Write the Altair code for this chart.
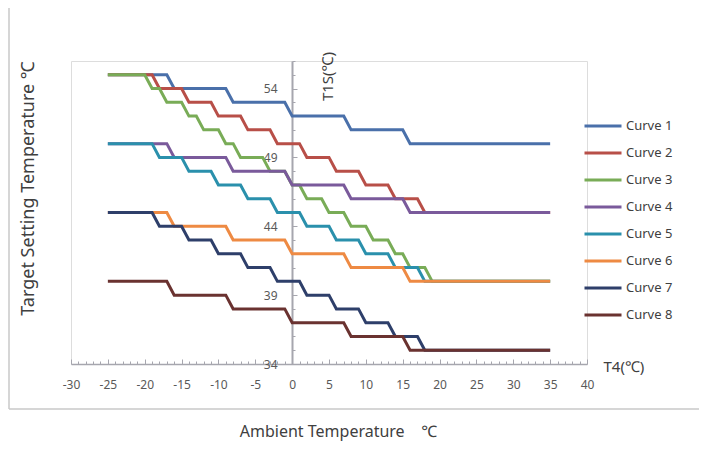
import altair as alt
import pandas as pd

series = ["Curve 1", "Curve 2", "Curve 3", "Curve 4", "Curve 5", "Curve 6", "Curve 7", "Curve 8"]
colors = ["#4A70AA", "#B84F48", "#79AC57", "#7A5A9B", "#2A90AC", "#EE8A43", "#2E3F6A", "#6A3230"]

c1_x = [-25, -17, -16, -9, -8, -1, 0, 7, 8, 15, 16, 35]
c1_y = [55, 55, 54, 54, 53, 53, 52, 52, 51, 51, 50, 50]

c2_x = [-25, -19, -18, -15, -14, -11, -10, -7, -6, -3, -2, 1, 2, 5, 6, 9, 10, 13, 14, 17, 18, 35]
c2_y = [55, 55, 54, 54, 53, 53, 52, 52, 51, 51, 50, 50, 49, 49, 48, 48, 47, 47, 46, 46, 45, 45]

c3_x = [-25, -20, -19, -18, -17, -15, -14, -13, -12, -10, -9, -8, -7, -4, -3, -1, 0, 1, 2, 4, 5, 7, 8, 10, 11, 13, 14, 15, 16, 18, 19, 35]
c3_y = [55, 55, 54, 54, 53, 53, 52, 52, 51, 51, 50, 50, 49, 49, 48, 48, 47, 47, 46, 46, 45, 45, 44, 44, 43, 43, 42, 42, 41, 41, 40, 40]

c4_x = [-25, -17, -16, -9, -8, -1, 0, 7, 8, 15, 16, 35]
c4_y = [50, 50, 49, 49, 48, 48, 47, 47, 46, 46, 45, 45]

c5_x = [-25, -19, -18, -15, -14, -11, -10, -7, -6, -3, -2, 1, 2, 5, 6, 9, 10, 13, 14, 17, 18, 35]
c5_y = [50, 50, 49, 49, 48, 48, 47, 47, 46, 46, 45, 45, 44, 44, 43, 43, 42, 42, 41, 41, 40, 40]

c6_x = [-25, -17, -16, -9, -8, -1, 0, 7, 8, 15, 16, 35]
c6_y = [45, 45, 44, 44, 43, 43, 42, 42, 41, 41, 40, 40]

c7_x = [-25, -19, -18, -15, -14, -11, -10, -7, -6, -3, -2, 1, 2, 5, 6, 9, 10, 13, 14, 17, 18, 35]
c7_y = [45, 45, 44, 44, 43, 43, 42, 42, 41, 41, 40, 40, 39, 39, 38, 38, 37, 37, 36, 36, 35, 35]

c8_x = [-25, -17, -16, -9, -8, -1, 0, 7, 8, 15, 16, 35]
c8_y = [40, 40, 39, 39, 38, 38, 37, 37, 36, 36, 35, 35]

x_domain = [-30, 40]
y_domain = [34, 56]
x_label_values = list(range(-30, 41, 5))
y_label_values = [34, 39, 44, 49, 54]
x_tick_values = list(range(-30, 41))
y_tick_values = list(range(34, 57))

all_x = [c1_x, c2_x, c3_x, c4_x, c5_x, c6_x, c7_x, c8_x]
all_y = [c1_y, c2_y, c3_y, c4_y, c5_y, c6_y, c7_y, c8_y]
rows = []
for name, xs_, ys_ in zip(series, all_x, all_y):
    for i, (xv, yv) in enumerate(zip(xs_, ys_)):
        rows.append({"curve": name, "t4": xv, "t1s": yv, "i": i})
df = pd.DataFrame(rows)

W, H = 516, 303
Y_AXIS_OFF = 221  # pixel position of x = 0
FONT = "Noto Sans"
AXIS_GRAY = "#A6A6AE"

xs = alt.Scale(domain=x_domain, nice=False, zero=False)
ys = alt.Scale(domain=y_domain, nice=False, zero=False)

lines = alt.Chart(df).mark_line(strokeWidth=3, clip=False).encode(
    x=alt.X("t4:Q", scale=xs, axis=alt.Axis(
        orient="bottom", values=x_label_values, ticks=False, tickSize=0, grid=False,
        domainColor=AXIS_GRAY, domainWidth=1.5, labelPadding=15, labelFontSize=12,
        labelColor="#595959", labelFont=FONT, labelOverlap=False, labelFlush=False,
        labelExpr="toString(datum.value)",
        title="Ambient Temperature\u00a0\u00a0\u00a0\u00a0℃", titleX=267, titleY=67,
        titleAlign="center", titleBaseline="middle", titleFontSize=16,
        titleFontWeight="normal", titleColor="#404040", titleFont=FONT)),
    y=alt.Y("t1s:Q", scale=ys, axis=alt.Axis(
        orient="left", offset=-Y_AXIS_OFF, values=y_label_values, ticks=False, tickSize=0,
        grid=False, domainColor=AXIS_GRAY, domainWidth=2, labelPadding=15,
        labelFontSize=12, labelColor="#595959", labelFont=FONT, labelOverlap=False,
        labelFlush=False,
        title="T1S(℃)", titleX=35, titleY=15, titleAngle=270, titleAlign="center",
        titleBaseline="middle", titleFontSize=15, titleFontWeight="normal",
        titleColor="#404040", titleFont=FONT)),
    color=alt.Color("curve:N", scale=alt.Scale(domain=series, range=colors),
                    legend=alt.Legend(title=None, orient="none", legendX=512, legendY=45,
                                      symbolType="stroke", symbolSize=1369,
                                      symbolStrokeWidth=3, labelFontSize=13,
                                      labelFont=FONT, labelColor="#404040",
                                      labelOffset=3, rowPadding=0, padding=0)),
    order="i:Q",
)

tick_layer = alt.Chart(df).mark_line(opacity=0).encode(
    x=alt.X("t4:Q", scale=xs, axis=alt.Axis(
        orient="top", offset=-H, values=x_tick_values, labels=False, domain=False,
        grid=False, tickColor=AXIS_GRAY, tickWidth=1,
        tickSize={"condition": {"test": "datum.value % 5 === 0", "value": 5}, "value": 3},
        title="T4(℃)", titleX=532, titleY=2, titleAlign="left", titleBaseline="middle",
        titleFontSize=15, titleFontWeight="normal", titleColor="#404040",
        titleFont=FONT)),
    y=alt.Y("t1s:Q", scale=ys, axis=alt.Axis(
        orient="right", offset=-(W - Y_AXIS_OFF), values=y_tick_values, labels=False,
        domain=False, grid=False, tickColor=AXIS_GRAY, tickWidth=1,
        tickSize={"condition": {"test": "(datum.value - 34) % 5 === 0", "value": 5}, "value": 3},
        title="Target Setting Temperature ℃", titleX=-264, titleY=127, titleAngle=270,
        titleAlign="center", titleBaseline="middle", titleFontSize=18,
        titleFontWeight="normal", titleColor="#404040", titleFont=FONT)),
    detail="curve:N",
)

frame_df = pd.DataFrame({"k": [0]})
frame_left = alt.Chart(frame_df).mark_rule(color="#C8C8C8", strokeWidth=1.5).encode(
    x=alt.value(-62), y=alt.value(-53), y2=alt.value(348))
frame_bottom = alt.Chart(frame_df).mark_rule(color="#C8C8C8", strokeWidth=1.5).encode(
    x=alt.value(-62), x2=alt.value(628), y=alt.value(348))

chart = alt.layer(frame_left, frame_bottom, lines, tick_layer).resolve_scale(
    x="independent", y="independent"
).properties(
    width=W, height=H,
    autosize=alt.AutoSizeParams(type="none"),
    padding={"left": 63, "top": 53, "right": 112, "bottom": 77},
).configure_view(stroke=None).configure(font=FONT, background="white")

chart.save("out.html", embed_options={"renderer": "svg", "actions": False})
